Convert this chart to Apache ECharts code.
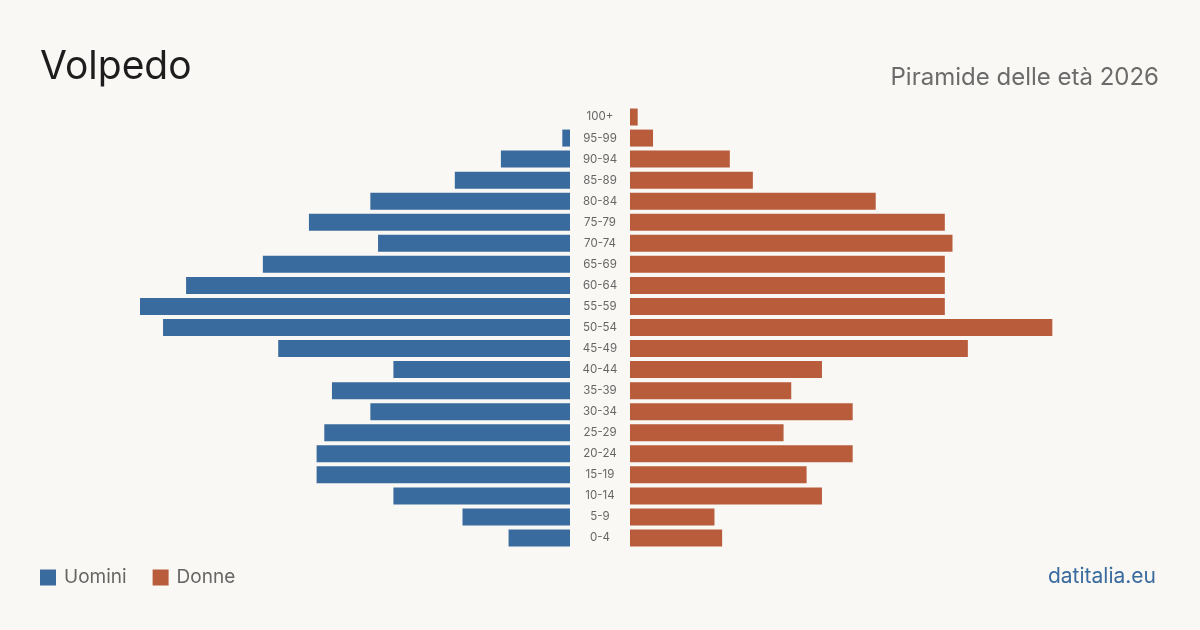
<!DOCTYPE html>
<html>
  <head>
    <meta charset="utf-8">
    <title>Volpedo</title>
    <style>
      html, body { margin:0; padding:0; background:#f9f8f4; }
      #chart { width:1200px; height:630px; }
    </style>
    <script src="https://cdn.jsdelivr.net/npm/echarts@6/dist/echarts.min.js"></script>
  </head>
  <body>
    <div id="chart"></div>
    <script>
      // fasce d'età, dal basso verso l'alto
      const ages = ['0-4','5-9','10-14','15-19','20-24','25-29','30-34','35-39','40-44','45-49',
                    '50-54','55-59','60-64','65-69','70-74','75-79','80-84','85-89','90-94','95-99','100+'];
      const uomini = [8, 14, 23, 33, 33, 32, 26, 31, 23, 38, 53, 56, 50, 40, 25, 34, 26, 15, 9, 1, 0];
      const donne  = [12, 11, 25, 23, 29, 20, 29, 21, 25, 44, 55, 41, 41, 41, 42, 41, 32, 16, 13, 3, 1];
      const maxVal = 56;

      const blue = '#3a6b9e';
      const red = '#b95c3c';
      const font = 'Inter, "Noto Sans", sans-serif';

      const chart = echarts.init(document.getElementById('chart'));
      const gridTop = 106.5, gridH = 442;

      chart.setOption({
        backgroundColor: '#f9f8f4',
        animation: false,
        textStyle: { fontFamily: font },
        title: [
          { text: 'Volpedo', left: 35, top: 43,
            textStyle: { fontSize: 39, fontWeight: 'normal', color: '#1d1d1d', fontFamily: font } },
          { text: 'Piramide delle età 2026', right: 36, top: 61,
            textStyle: { fontSize: 24, fontWeight: 'normal', color: '#6b6b6b', fontFamily: font } }
        ],
        legend: {
          left: 40, top: 568, padding: 0, itemWidth: 16, itemHeight: 16, itemGap: 26,
          icon: 'rect',
          textStyle: { fontSize: 19, color: '#666', fontFamily: font, padding: [0, 0, 0, 3] },
          data: ['Uomini', 'Donne']
        },
        grid: [
          { left: 140, width: 430, top: gridTop, height: gridH },
          { left: 630, width: 430, top: gridTop, height: gridH }
        ],
        xAxis: [
          { gridIndex: 0, type: 'value', min: 0, max: maxVal, inverse: true, show: false },
          { gridIndex: 1, type: 'value', min: 0, max: maxVal, show: false }
        ],
        yAxis: [
          { gridIndex: 0, type: 'category', data: ages, show: false },
          { gridIndex: 1, type: 'category', data: ages,
            axisLine: { show: false }, axisTick: { show: false },
            axisLabel: { margin: 30, align: 'center', fontSize: 11.5, color: '#666', fontFamily: font } }
        ],
        series: [
          { name: 'Uomini', type: 'bar', xAxisIndex: 0, yAxisIndex: 0, data: uomini,
            barWidth: 17, itemStyle: { color: blue } },
          { name: 'Donne', type: 'bar', xAxisIndex: 1, yAxisIndex: 1, data: donne,
            barWidth: 17, itemStyle: { color: red } }
        ],
        graphic: [
          { type: 'text', right: 44, top: 566,
            style: { text: 'datitalia.eu', fontSize: 21, fill: blue, fontFamily: font } }
        ]
      });
    </script>
  </body>
</html>
